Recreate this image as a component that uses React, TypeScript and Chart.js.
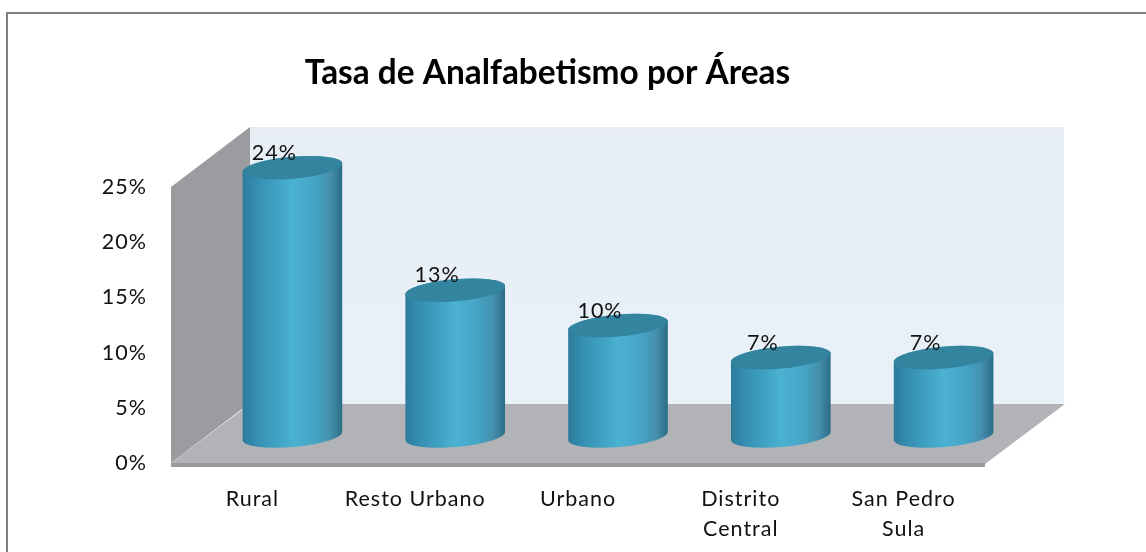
import React, { useEffect, useRef } from "react";
import { Chart, registerables } from "chart.js";

Chart.register(...registerables);

const categories = ["Rural", "Resto Urbano", "Urbano", ["Distrito", "Central"], ["San Pedro", "Sula"]];
const rates = [24.3, 13.2, 10.0, 7.1, 7.1];
const chartTitle = "Tasa de Analfabetismo por Áreas";
const yTicks = { min: 0, max: 25, step: 5 };

const FONT = "Lato, Carlito, sans-serif";
const WALL_DX = 79;
const WALL_DY = 60;
const BAR_DX = 40;
const BAR_DY = 27;
const TILT = (-5 * Math.PI) / 180;
const RY = 11;

const scenePlugin = {
  id: "scene3d",
  beforeDraw(chart: any) {
    chart.ctx.letterSpacing = "0px";
  },
  beforeDatasetsDraw(chart: any) {
    const { ctx, chartArea: a } = chart;
    const { left: l, right: r, top: t, bottom: b } = a;
    ctx.save();
    // back wall
    const wall = ctx.createLinearGradient(0, t - WALL_DY, 0, b - WALL_DY);
    wall.addColorStop(0, "#e9edf3");
    wall.addColorStop(0.04, "#e7eef6");
    wall.addColorStop(1, "#e8f0f8");
    ctx.fillStyle = wall;
    ctx.fillRect(l + WALL_DX, t - WALL_DY, r - l, b - t + 1);
    // left wall
    ctx.fillStyle = "#9a9c9f";
    ctx.beginPath();
    ctx.moveTo(l, t);
    ctx.lineTo(l + WALL_DX, t - WALL_DY);
    ctx.lineTo(l + WALL_DX, b - WALL_DY);
    ctx.lineTo(l, b);
    ctx.closePath();
    ctx.fill();
    // floor
    ctx.fillStyle = "#b1b3b6";
    ctx.beginPath();
    ctx.moveTo(l, b);
    ctx.lineTo(l + WALL_DX, b - WALL_DY + 1);
    ctx.lineTo(r + WALL_DX + 1, b - WALL_DY + 1);
    ctx.lineTo(r, b + 1);
    ctx.closePath();
    ctx.fill();
    // front edge of the floor
    ctx.fillStyle = "#999a9d";
    ctx.fillRect(l, b, r - l, 4);
    ctx.restore();
  },
  beforeDatasetDraw(chart: any, args: any) {
    const { ctx } = chart;
    const meta = chart.getDatasetMeta(args.index);
    ctx.save();
    meta.data.forEach((el: any) => {
      const p = el.getProps(["x", "y", "base", "width"], true);
      const cx = p.x + BAR_DX;
      const yt = p.y - BAR_DY;
      const yb = p.base - BAR_DY;
      const rx = p.width / 2;
      const g = ctx.createLinearGradient(cx - rx, 0, cx + rx, 0);
      g.addColorStop(0, "#2d7a9b");
      g.addColorStop(0.14, "#348eb0");
      g.addColorStop(0.5, "#4bb2d2");
      g.addColorStop(0.72, "#46a5c6");
      g.addColorStop(0.88, "#4590ae");
      g.addColorStop(1, "#2b6b84");
      ctx.fillStyle = g;
      ctx.beginPath();
      ctx.ellipse(cx, yb, rx, RY, TILT, 0, Math.PI, false);
      ctx.ellipse(cx, yt, rx, RY, TILT, Math.PI, 2 * Math.PI, false);
      ctx.closePath();
      ctx.fill();
      ctx.fillStyle = "#33849f";
      ctx.beginPath();
      ctx.ellipse(cx, yt, rx, RY, TILT, 0, 2 * Math.PI);
      ctx.fill();
    });
    ctx.restore();
    return false;
  },
  afterDatasetsDraw(chart: any) {
    const { ctx } = chart;
    const meta = chart.getDatasetMeta(0);
    const values = chart.data.datasets[0].data;
    // The tick labels are drawn after this hook (ticks.z = 1) and share this spacing.
    ctx.letterSpacing = "1px";
    ctx.save();
    ctx.font = `21.5px ${FONT}`;
    ctx.fillStyle = "#111";
    ctx.textAlign = "center";
    ctx.textBaseline = "middle";
    meta.data.forEach((el: any, i: number) => {
      ctx.fillText(`${Math.round(values[i])}%`, el.x + 22, el.y - BAR_DY - 15);
    });
    ctx.restore();
  },
};

export default function App() {
  const ref = useRef<HTMLCanvasElement>(null);
  useEffect(() => {
    const chart = new Chart(ref.current as HTMLCanvasElement, {
      type: "bar",
      plugins: [scenePlugin],
      data: {
        labels: categories as any,
        datasets: [{ data: rates, backgroundColor: "#3fa6c7", barThickness: 100, yAxisID: "y" }],
      },
      options: {
        responsive: false,
        animation: false,
        layout: { padding: { left: 0, right: 51, top: 0, bottom: 0 } },
        plugins: {
          legend: { display: false },
          tooltip: { enabled: false },
          title: {
            display: true,
            text: chartTitle,
            color: "#000",
            font: { family: FONT, size: 33.4, weight: "bold", lineHeight: 1.2 },
            padding: { top: 53, bottom: 93.92 },
          },
        },
        scales: {
          x: {
            grid: { display: false, drawTicks: false },
            border: { display: false },
            ticks: {
              z: 1,
              color: "#111",
              font: { family: FONT, size: 21.5, lineHeight: 30 / 21.5 },
              padding: 21,
              maxRotation: 0,
              autoSkip: false,
            },
            afterFit(s: any) {
              s.height = 89;
            },
          },
          y: {
            min: yTicks.min,
            max: yTicks.max,
            grid: { display: false, drawTicks: false },
            border: { display: false },
            ticks: {
              z: 1,
              stepSize: yTicks.step,
              color: "#111",
              font: { family: FONT, size: 21.5 },
              padding: 24,
              callback: (v: any) => `${v}%`,
            },
            afterFit(s: any) {
              s.width = 171;
            },
          },
          depthSpace: {
            position: "right",
            min: yTicks.min,
            max: yTicks.max,
            grid: { display: false, drawTicks: false },
            border: { display: false },
            ticks: { display: false },
            afterFit(s: any) {
              s.width = 110;
            },
          },
        },
      },
    } as any);
    return () => chart.destroy();
  }, []);
  return (
    <div style={{ position: "fixed", left: 0, top: 0, width: 1146, height: 552, background: "#fff", overflow: "hidden" }}>
      <div
        style={{
          position: "absolute",
          left: 6,
          top: 12,
          width: 1200,
          height: 600,
          borderLeft: "2px solid #808080",
          borderTop: "2px solid #808080",
        }}
      />
      <canvas ref={ref} width={1146} height={552} style={{ position: "absolute", left: 0, top: 0 }} />
    </div>
  );
}
